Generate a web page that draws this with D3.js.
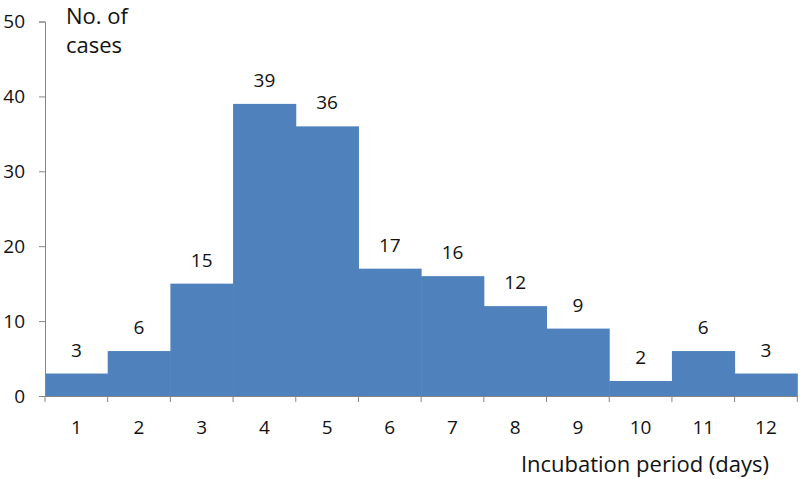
<!DOCTYPE html>
<html>
<head>
<meta charset="utf-8">
<script src="https://cdn.jsdelivr.net/npm/d3@7"></script>
<style>
  body { margin: 0; background: #fff; }
  text { font-family: "Open Sans", sans-serif; fill: #111; }
</style>
</head>
<body>
<svg id="chart" width="800" height="479"></svg>
<script>
// incubation period histogram
const days = [1, 2, 3, 4, 5, 6, 7, 8, 9, 10, 11, 12];
const cases = [3, 6, 15, 39, 36, 17, 16, 12, 9, 2, 6, 3];
const yTicks = [0, 10, 20, 30, 40, 50];

const svg = d3.select("#chart");
const fontSize = 19;
const titleSize = 22;
const axisColor = "#868686";

const x = d3.scaleBand()
  .domain(days)
  .range([45, 797.3])
  .padding(0);

const y = d3.scaleLinear()
  .domain([0, 50])
  .range([396, 21.5]);

// bars
svg.append("g")
  .selectAll("rect")
  .data(days)
  .join("rect")
    .attr("x", d => x(d))
    .attr("y", (d, i) => y(cases[i]))
    .attr("width", x.bandwidth() + 0.5)
    .attr("height", (d, i) => y(0) - y(cases[i]))
    .style("fill", "#4F81BD");

// value labels
svg.append("g")
  .selectAll("text")
  .data(days)
  .join("text")
    .attr("x", d => x(d) + x.bandwidth() / 2)
    .attr("y", (d, i) => y(cases[i]) - 17)
    .attr("text-anchor", "middle")
    .style("font-size", fontSize + "px")
    .text((d, i) => cases[i]);

// y axis
let yAxis = svg.append("g")
  .attr("transform", "translate(45,0)")
  .call(d3.axisLeft(y).tickValues(yTicks).tickSize(6).tickPadding(14));
yAxis.select(".domain").style("stroke", axisColor);
yAxis.selectAll(".tick line").style("stroke", axisColor);
yAxis.selectAll(".tick text")
  .style("font-size", fontSize + "px")
  .style("font-family", "'Open Sans', sans-serif")
  .attr("fill", "#111");

// x axis with ticks at bin edges
const edges = days.map(d => x(d)).concat([x.range()[1]]);
let xAxis = svg.append("g")
  .attr("transform", `translate(0,${y(0)})`)
  .call(d3.axisBottom(x).tickSize(0).tickPadding(25));
xAxis.select(".domain").style("stroke", axisColor);
xAxis.selectAll(".tick text")
  .style("font-size", fontSize + "px")
  .style("font-family", "'Open Sans', sans-serif")
  .attr("fill", "#111");
xAxis.selectAll(".edge")
  .data(edges)
  .join("line")
    .attr("class", "edge")
    .attr("x1", d => d)
    .attr("x2", d => d)
    .attr("y1", 0)
    .attr("y2", 6)
    .style("stroke", axisColor);

// axis titles
svg.append("text")
  .attr("x", 66)
  .attr("y", 24)
  .style("font-size", titleSize + "px")
  .text("No. of");
svg.append("text")
  .attr("x", 66)
  .attr("y", 53)
  .style("font-size", titleSize + "px")
  .text("cases");
svg.append("text")
  .attr("x", 769)
  .attr("y", 472)
  .attr("text-anchor", "end")
  .style("font-size", titleSize + "px")
  .text("Incubation period (days)");
</script>
</body>
</html>
